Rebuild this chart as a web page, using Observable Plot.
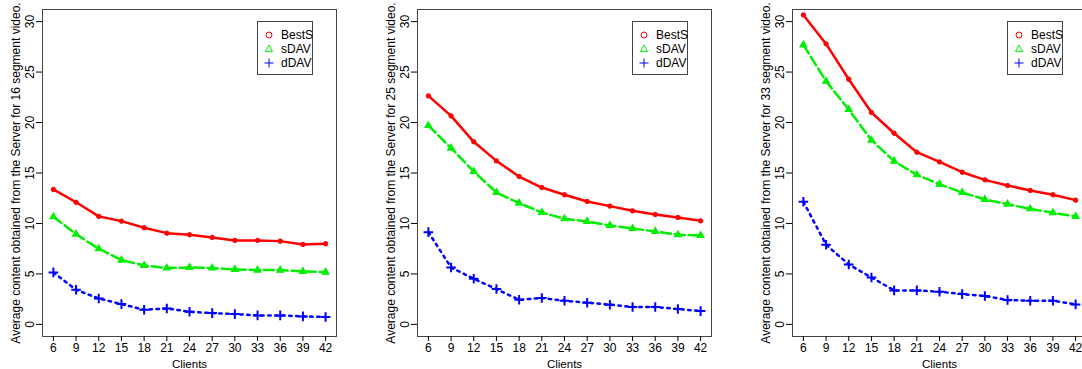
<!DOCTYPE html>
<html><head><meta charset="utf-8">
<script src="https://cdn.jsdelivr.net/npm/d3@7"></script>
<script src="https://cdn.jsdelivr.net/npm/@observablehq/plot@0.6"></script>
<style>
html,body{margin:0;padding:0;background:#fff;overflow:hidden;}
#wrap{position:relative;width:1082px;height:369px;overflow:hidden;font-family:"Liberation Sans",Arial,sans-serif;}
.panel{position:absolute;top:0;width:375px;height:369px;}
.legend{position:absolute;left:257px;top:21px;width:54px;height:52px;border:1px solid #444;background:#fff;font-size:12px;}
.legend .row{position:absolute;left:4px;height:14px;line-height:14px;display:flex;align-items:center;}
.legend svg{width:14px;height:14px;margin-right:5px;}
</style>
</head><body>
<div id="wrap"></div>
<script>
const clients = [6, 9, 12, 15, 18, 21, 24, 27, 30, 33, 36, 39, 42];
const yTicks = [0, 5, 10, 15, 20, 25, 30];
const seriesNames = ["BestS", "sDAV", "dDAV"];
const segmentCounts = [16, 25, 33];

const bestS16 = [13.37, 12.10, 10.70, 10.23, 9.57, 9.04, 8.88, 8.61, 8.32, 8.32, 8.25, 7.92, 7.99];
const sDAV16  = [10.66, 8.94, 7.49, 6.37, 5.84, 5.58, 5.64, 5.58, 5.45, 5.38, 5.38, 5.25, 5.18];
const dDAV16  = [5.15, 3.43, 2.57, 2.01, 1.45, 1.58, 1.25, 1.12, 1.02, 0.89, 0.89, 0.79, 0.73];

const bestS25 = [22.64, 20.66, 18.09, 16.20, 14.65, 13.56, 12.84, 12.18, 11.72, 11.25, 10.89, 10.59, 10.26];
const sDAV25  = [19.70, 17.46, 15.15, 13.07, 12.01, 11.09, 10.46, 10.20, 9.80, 9.50, 9.21, 8.88, 8.81];
const dDAV25  = [9.14, 5.64, 4.52, 3.50, 2.44, 2.61, 2.34, 2.15, 1.95, 1.72, 1.72, 1.52, 1.32];

const bestS33 = [30.66, 27.79, 24.29, 20.99, 18.94, 17.06, 16.10, 15.08, 14.32, 13.76, 13.27, 12.84, 12.31];
const sDAV33  = [27.69, 24.09, 21.29, 18.25, 16.17, 14.82, 13.89, 13.07, 12.38, 11.91, 11.45, 11.06, 10.69];
const dDAV33  = [12.15, 7.89, 5.94, 4.65, 3.37, 3.37, 3.23, 3.00, 2.81, 2.41, 2.34, 2.34, 1.98];

const panelsData = [[bestS16, sDAV16, dDAV16], [bestS25, sDAV25, dDAV25], [bestS33, sDAV33, dDAV33]];

const colors = ["#ff0000", "#00ee00", "#0000ff"];
const dashes = [null, "10,4", "2.5,4.5"];

function toRows(vals) { return clients.map((c, i) => ({x: c, y: vals[i]})); }

const wrap = document.getElementById("wrap");
panelsData.forEach((series, p) => {
  const [b, s, d] = series.map(toRows);
  const chart = Plot.plot({
    width: 375, height: 369,
    marginLeft: 42, marginRight: 39, marginTop: 9, marginBottom: 33,
    style: {fontFamily: "'Liberation Sans', Arial, sans-serif", fontSize: "12px", background: "transparent", overflow: "visible"},
    x: {domain: [4.56, 43.44]},
    y: {domain: [-1.2, 31.2]},
    marks: [
      Plot.frame({stroke: "#444"}),
      Plot.axisX({ticks: clients, tickSize: 5, tickPadding: 2, fontSize: 12, label: null}),
      Plot.axisX({ticks: [], label: "Clients", fontSize: 11.5, labelAnchor: "center", labelArrow: "none", labelOffset: 31}),
      Plot.axisY({ticks: yTicks, tickSize: 6, tickPadding: 3, tickRotate: -90, fontSize: 12,
        label: `Average content obtained from the Server for ${segmentCounts[p]} segment video.`,
        labelAnchor: "center", labelArrow: "none", labelOffset: 31}),
      Plot.line(b, {x: "x", y: "y", stroke: colors[0], strokeWidth: 2.5}),
      Plot.line(s, {x: "x", y: "y", stroke: colors[1], strokeWidth: 2.5, strokeDasharray: dashes[1]}),
      Plot.line(d, {x: "x", y: "y", stroke: colors[2], strokeWidth: 2.5, strokeDasharray: dashes[2]}),
      Plot.dot(b, {x: "x", y: "y", r: 2.2, fill: colors[0], stroke: colors[0], strokeWidth: 1}),
      Plot.dot(s, {x: "x", y: "y", symbol: "triangle2", r: 3.2, fill: colors[1], stroke: colors[1], strokeWidth: 1.2}),
      Plot.dot(d, {x: "x", y: "y", symbol: "plus", r: 3.2, stroke: colors[2], strokeWidth: 2})
    ]
  });
  const div = document.createElement("div");
  div.className = "panel";
  div.style.left = (p * 375) + "px";
  div.appendChild(chart);
  const leg = document.createElement("div");
  leg.className = "legend";
  const syms = [
    `<circle cx="7" cy="7" r="3" fill="none" stroke="${colors[0]}" stroke-width="1"/>`,
    `<path d="M7,3.2 L10.6,9.6 L3.4,9.6 Z" fill="none" stroke="${colors[1]}" stroke-width="1"/>`,
    `<path d="M7,2.5 V11.5 M2.5,7 H11.5" stroke="${colors[2]}" stroke-width="1"/>`
  ];
  seriesNames.forEach((n, i) => {
    const row = document.createElement("div");
    row.className = "row";
    row.style.top = (6 + i * 14) + "px";
    row.innerHTML = `<svg viewBox="0 0 14 14">${syms[i]}</svg><span>${n}</span>`;
    leg.appendChild(row);
  });
  div.appendChild(leg);
  wrap.appendChild(div);
});
</script>
</body></html>
